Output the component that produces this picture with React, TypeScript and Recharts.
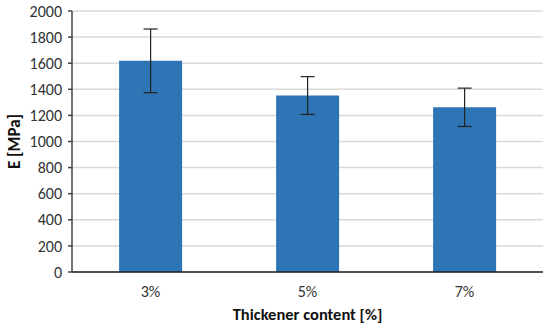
import {
  BarChart,
  Bar,
  XAxis,
  YAxis,
  CartesianGrid,
  ErrorBar,
} from "recharts";

const categories = ["3%", "5%", "7%"];
const modulus = [1618, 1352, 1262];
const deviation = [244, 145, 147];
const yTicks = [0, 200, 400, 600, 800, 1000, 1200, 1400, 1600, 1800, 2000];
const yMinorTicks = [
  0, 40, 80, 120, 160, 200, 240, 280, 320, 360, 400, 440, 480, 520, 560, 600,
  640, 680, 720, 760, 800, 840, 880, 920, 960, 1000, 1040, 1080, 1120, 1160,
  1200, 1240, 1280, 1320, 1360, 1400, 1440, 1480, 1520, 1560, 1600, 1640,
  1680, 1720, 1760, 1800, 1840, 1880, 1920, 1960, 2000,
];

const data = categories.map((c, i) => ({
  name: c,
  value: modulus[i],
  err: deviation[i],
}));

const font = "Carlito, 'Open Sans', 'Liberation Sans', sans-serif";

const App = () => {
  return (
    <div style={{ position: "absolute", left: 0, top: 0, background: "#fff" }}>
      <BarChart
        width={550}
        height={329}
        data={data}
        margin={{ top: 11, right: 7, left: 0, bottom: 0 }}
        barCategoryGap="30%"
      >
        <CartesianGrid
          vertical={false}
          stroke="#d9d9d9"
          strokeWidth={1.5}
          yAxisId="main"
        />
        <XAxis
          dataKey="name"
          stroke="#222"
          strokeWidth={1.5}
          tickLine={false}
          height={57}
          tickMargin={8}
          tick={{ fill: "#333", fontSize: 16, fontFamily: font }}
          label={{
            value: "Thickener content [%]",
            position: "insideBottom",
            offset: 9,
            fill: "#111",
            fontSize: 16.5,
            fontWeight: "bold",
            fontFamily: font,
          }}
        />
        <XAxis
          xAxisId="top"
          orientation="top"
          dataKey="name"
          height={0}
          tick={false}
          tickLine={false}
          stroke="#555"
          strokeWidth={1.5}
        />
        <YAxis
          yAxisId="minor"
          domain={[0, 2000]}
          ticks={yMinorTicks}
          interval={0}
          width={0}
          axisLine={false}
          tick={false}
          tickSize={3}
          stroke="#444"
        />
        <YAxis
          yAxisId="main"
          domain={[0, 2000]}
          ticks={yTicks}
          interval={0}
          width={72}
          tickSize={4}
          tickMargin={6}
          stroke="#444"
          strokeWidth={1.5}
          tick={{ fill: "#333", fontSize: 16, fontFamily: font }}
          label={{
            value: "E [MPa]",
            angle: -90,
            position: "insideLeft",
            offset: 14,
            style: { textAnchor: "middle" },
            fill: "#111",
            fontSize: 17,
            fontWeight: "bold",
            fontFamily: font,
          }}
        />
        <YAxis
          yAxisId="right"
          orientation="right"
          domain={[0, 2000]}
          width={0}
          tick={false}
          tickLine={false}
          stroke="#555"
          strokeWidth={1.5}
        />
        <Bar
          dataKey="value"
          yAxisId="main"
          fill="#2e75b6"
          isAnimationActive={false}
        >
          <ErrorBar
            dataKey="err"
            width={7}
            stroke="#222"
            strokeWidth={1.2}
            direction="y"
          />
        </Bar>
      </BarChart>
    </div>
  );
};

export default App;
